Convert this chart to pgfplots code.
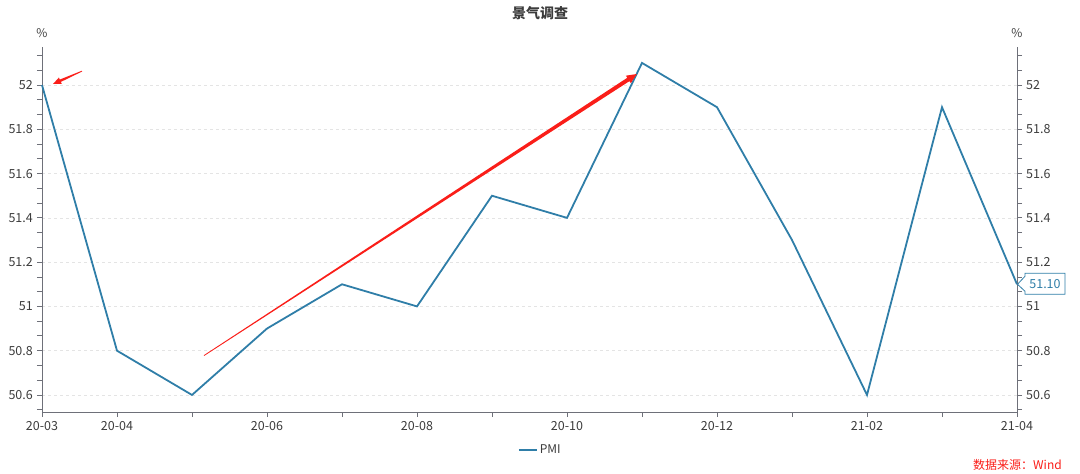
\documentclass[border=0pt]{standalone}
\usepackage{fontspec}
\setmainfont{Noto Sans CJK SC}
\usepackage{pgfplots}
\pgfplotsset{compat=1.18}
\usetikzlibrary{calc}

\definecolor{pmiblue}{RGB}{47,126,168}
\definecolor{axisgray}{RGB}{110,112,121}
\definecolor{gridgray}{RGB}{228,228,228}
\definecolor{txt}{RGB}{60,60,60}
\definecolor{arrowred}{RGB}{250,30,25}

% tapered red arrow from #1 to #2: head length #3, head half-width #4, shaft half-width #5
\newcommand\taper[5]{%
  \fill[arrowred] ($(#1)!0.4pt!90:(#2)$)
    -- ($($(#2)!#3!(#1)$)!#5!90:(#2)$)
    -- ($($(#2)!#3!(#1)$)!#4!90:(#2)$) -- (#2)
    -- ($($(#2)!#3!(#1)$)!#4!-90:(#2)$)
    -- ($($(#2)!#3!(#1)$)!#5!-90:(#2)$)
    -- ($(#1)!0.4pt!-90:(#2)$) -- cycle;}

\begin{document}
\fontsize{12}{14}\selectfont
\begin{tikzpicture}
\useasboundingbox (-42pt,-62pt) rectangle (1038pt,412pt);

\pgfplotsset{
  pmiaxis/.style={
    scale only axis, width=975pt, height=365pt,
    at={(0,0)}, anchor=south west,
    xmin=0, xmax=13, ymin=50.523, ymax=52.172,
    ytick={50.6,50.8,...,52.01},
    minor ytick={50.533,50.667,50.733,50.867,50.933,51.067,51.133,51.267,51.333,51.467,51.533,51.667,51.733,51.867,51.933,52.067,52.133},
    yticklabel style={/pgf/number format/.cd, fixed, precision=1},
    tick align=outside,
    major tick length=5pt, minor tick length=5pt,
    axis line style={axisgray, line width=0.8pt},
    every tick/.style={axisgray, line width=0.8pt},
    every minor tick/.style={axisgray, line width=0.8pt},
    tick label style={font=\fontsize{12.5}{14}\selectfont, text=txt},
    /pgf/number format/assume math mode=true,
    clip=false,
  }
}

\begin{axis}[pmiaxis,
  axis x line*=bottom, axis y line*=left,
  xtick={0,...,13},
  xticklabels={20-03,20-04,,20-06,,20-08,,20-10,,20-12,,21-02,,21-04},
  ymajorgrids,
  grid style={gridgray, dashed, line width=0.6pt},
  legend style={at={(rel axis cs:0.511,-0.104)}, anchor=center, draw=none,
    font=\fontsize{12}{14}\selectfont, text=txt,
    legend image code/.code={\draw[pmiblue, line width=2.2pt] (0pt,0pt) -- (18pt,0pt);}},
]
\addplot[pmiblue, line width=1.8pt] coordinates {
  (0,52.0) (1,50.8) (2,50.6) (3,50.9) (4,51.1) (5,51.0) (6,51.5)
  (7,51.4) (8,52.1) (9,51.9) (10,51.3) (11,50.6) (12,51.9) (13,51.1)};
\addlegendentry{PMI}
\coordinate (a1s) at (axis cs:0.533,52.063);
\coordinate (a1e) at (axis cs:0.147,52.005);
\coordinate (a2s) at (axis cs:2.16,50.778);
\coordinate (a2e) at (axis cs:7.93,52.05);
\coordinate (last) at (axis cs:13,51.1);
\node[text=txt] at (rel axis cs:0,1) [yshift=14pt] {\%};
\end{axis}

\begin{axis}[pmiaxis,
  axis y line*=right, axis x line=none,
  xtick=\empty,
]
\addplot[draw=none] coordinates {(0,52.0) (13,51.1)};
\node[text=txt] at (rel axis cs:1,1) [yshift=14pt] {\%};
\end{axis}

% annotations
\taper{a1s}{a1e}{8pt}{3.5pt}{1.3pt}
\taper{a2s}{a2e}{10pt}{4.5pt}{2pt}

% end value label
\filldraw[fill=white, draw=pmiblue, line width=0.8pt]
  ($(last)+(8pt,8pt)$) -- ($(last)+(8pt,11pt)$) -- ($(last)+(48pt,11pt)$)
  -- ($(last)+(48pt,-10pt)$) -- ($(last)+(8pt,-10pt)$) -- ($(last)+(8pt,-7pt)$)
  -- ($(last)+(0.5pt,0pt)$) -- cycle;
\node[text=pmiblue, font=\fontsize{12.5}{14}\selectfont] at ($(last)+(28pt,0.5pt)$) {51.10};

% title and source
\node[font=\fontsize{14}{16}\selectfont\bfseries, text=txt] at (498pt,399pt) {景气调查};
\node[anchor=east, text=arrowred, font=\fontsize{12}{14}\selectfont] at (1024pt,-53pt) {数据来源：Wind};
\end{tikzpicture}
\end{document}
